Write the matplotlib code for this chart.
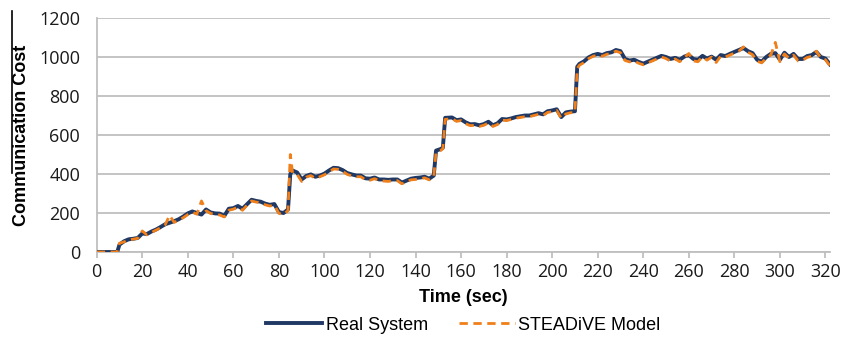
import matplotlib.pyplot as plt
from matplotlib.lines import Line2D

# time (sec)
t = [0, 2, 4, 6, 8, 9, 10, 12, 14, 16, 18, 20, 22, 24, 26, 28, 30, 32, 34, 36,
     38, 40, 42, 44, 46, 48, 50, 52, 54, 56, 58, 60, 62, 64, 66, 68, 70, 72, 74, 76,
     78, 80, 82, 84, 85, 86, 88, 90, 92, 94, 96, 98, 100, 102, 104, 106, 108, 110, 112, 114,
     116, 118, 120, 122, 124, 126, 128, 130, 132, 134, 136, 138, 140, 142, 144, 146, 148, 149, 151, 152,
     153, 156, 158, 160, 162, 164, 166, 168, 170, 172, 174, 176, 178, 180, 182, 184, 186, 188, 190, 192,
     194, 196, 198, 200, 202, 204, 206, 208, 210, 211, 212, 214, 216, 218, 220, 222, 224, 226, 228, 230,
     232, 234, 236, 238, 240, 242, 244, 246, 248, 250, 252, 254, 256, 258, 260, 262, 264, 266, 268, 270,
     272, 274, 276, 278, 280, 282, 284, 286, 288, 290, 292, 294, 296, 298, 300, 302, 304, 306, 308, 310,
     312, 314, 316, 318, 320, 322]

real = [0, 0, 0, 0, 0, 0, 38, 55, 65, 68, 72, 95, 92, 105, 115, 128, 142, 150, 158, 168,
        182, 198, 208, 200, 192, 218, 203, 198, 197, 185, 222, 225, 236, 222, 245, 268, 262, 258, 248, 242,
        246, 205, 200, 218, 400, 418, 408, 372, 390, 398, 386, 392, 402, 418, 432, 430, 420, 405, 398, 392,
        392, 378, 376, 382, 372, 372, 370, 372, 372, 356, 366, 376, 380, 382, 386, 376, 392, 520, 528, 535,
        688, 690, 676, 680, 665, 655, 656, 650, 656, 668, 650, 660, 682, 680, 685, 692, 696, 700, 700, 706,
        712, 706, 722, 726, 732, 692, 716, 720, 722, 950, 965, 978, 998, 1010, 1016, 1010, 1020, 1024, 1036, 1030,
        990, 982, 986, 975, 966, 976, 986, 996, 1006, 1000, 990, 996, 986, 1002, 1010, 990, 986, 1006, 992, 1002,
        986, 1010, 1005, 1016, 1026, 1036, 1046, 1030, 1020, 986, 976, 1000, 1016, 1020, 986, 1022, 1000, 1016, 990, 990,
        1005, 1010, 1026, 1000, 992, 962]

model = [0, 0, 0, 0, 0, 0, 45, 52, 62, 66, 70, 108, 88, 100, 112, 124, 138, 188, 152, 162,
         176, 192, 204, 194, 262, 212, 198, 192, 190, 180, 214, 220, 230, 214, 240, 262, 256, 252, 242, 236,
         240, 198, 192, 212, 500, 405, 398, 362, 384, 392, 378, 386, 396, 410, 426, 424, 414, 398, 390, 386,
         386, 370, 368, 376, 366, 364, 362, 366, 366, 350, 360, 370, 372, 376, 380, 370, 386, 512, 520, 530,
         680, 684, 670, 674, 658, 648, 650, 644, 650, 662, 644, 654, 676, 674, 680, 686, 690, 694, 694, 700,
         706, 700, 716, 720, 726, 686, 708, 714, 716, 942, 958, 972, 992, 1004, 1010, 1004, 1014, 1018, 1030, 1022,
         982, 975, 980, 968, 960, 970, 980, 990, 1000, 992, 978, 990, 976, 996, 1018, 980, 976, 1000, 984, 1000,
         972, 1004, 1000, 1010, 1020, 1030, 1052, 1024, 1012, 978, 970, 994, 1010, 1075, 976, 1016, 994, 1010, 980, 984,
         998, 1004, 1030, 994, 986, 955]

fig = plt.figure(figsize=(8.44, 3.38), dpi=100)
ax = fig.add_axes([0.1146, 0.2544, 0.8688, 0.6923])

ax.plot(t, real, color='#1f3864', lw=2.8, label='Real System', zorder=3)
ax.plot(t, model, color='#f07f1a', lw=2.0, ls=(0, (3, 2)), label='STEADiVE Model', zorder=4)

ax.set_xlim(0, 322)
ax.set_ylim(0, 1200)
ax.set_xticks(range(0, 321, 20))
ax.set_yticks(range(0, 1201, 200))
ax.grid(axis='y', color='#bfbfbf', lw=1.3)
ax.set_axisbelow(True)
for s in ['top', 'right']:
    ax.spines[s].set_visible(False)
for s in ['left', 'bottom']:
    ax.spines[s].set_color('#bfbfbf')
    ax.spines[s].set_linewidth(1.3)
ax.tick_params(axis='y', length=0, pad=12, labelsize=13)
ax.tick_params(axis='x', length=4, color='#bfbfbf', width=1.3, pad=4, labelsize=13)
for lab in ax.get_xticklabels() + ax.get_yticklabels():
    lab.set_fontfamily('Open Sans')
    lab.set_color('#1a1a1a')

ax.set_xlabel('Time (sec)', fontsize=13, fontweight='bold', family='Liberation Sans', labelpad=6)
ax.set_ylabel('Communication Cost', fontsize=13, fontweight='bold', family='Liberation Sans')
ax.yaxis.set_label_coords(-0.091, 0.5)

fig.legend(loc='center', bbox_to_anchor=(0.549, 0.038), ncol=2, frameon=False,
           handlelength=3.1, handletextpad=0.2, columnspacing=1.7,
           prop={'family': 'Liberation Sans', 'size': 13})

# stray vertical rule at the top left of the original figure
fig.add_artist(Line2D([0.0142, 0.0142], [0.967, 0.488], color='black', lw=1.2))

fig.savefig('out.png', dpi=100)
